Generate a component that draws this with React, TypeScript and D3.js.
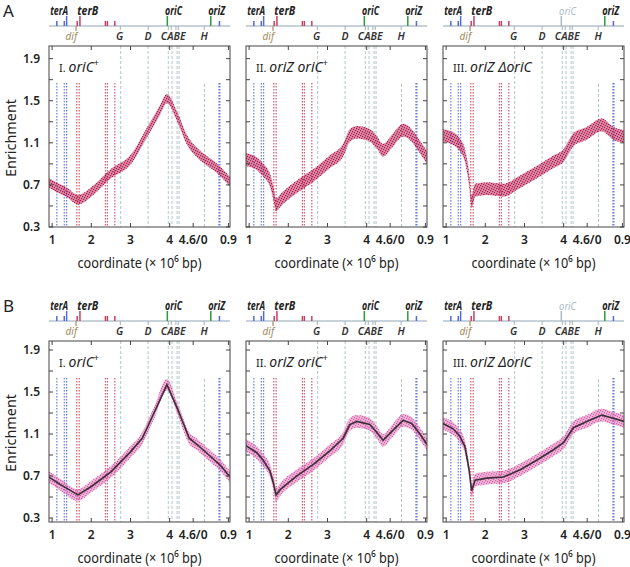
import React from "react";
import * as d3 from "d3";

// ---------- axes ----------
const X_DOMAIN: [number, number] = [0.92, 5.54]; // unwrapped genome axis (Mb); values > 4.6 wrap to 0
const X_TICKS = [1, 2, 3, 4, 4.6, 5.5];
const X_TICK_LABELS = ["1", "2", "3", "4", "4.6/0", "0.9"];
const Y_LABEL_TICKS = [0.3, 0.7, 1.1, 1.5, 1.9];
const Y_ALL_TICKS = [0.3, 0.5, 0.7, 0.9, 1.1, 1.3, 1.5, 1.7, 1.9];

// ---------- genome features (unwrapped axis positions) ----------
const TRACK_BLUE = [1.12, 1.31, 1.37, 5.27];
const TRACK_BLUE_TALL = [false, false, true, false];
const TRACK_RED = [1.64, 1.71, 2.36, 2.41, 2.6];
const TRACK_RED_TALL = [false, true, false, false, false];
const TRACK_ORI = [3.94, 5.05];
const TRACK_BELOW = [2.74, 3.45, 3.965, 4.04, 4.16, 4.22, 4.88];
const DIF_POS = 1.61;
const GENE_LABELS = ["terA", "terB", "oriC", "oriZ"];
const GENE_LABEL_POS = [1.18, 1.91, 4.1, 5.2];
const GENE_LABEL_W = [18, 21, 17, 17];
const RRN_LABELS = ["G", "D", "CABE", "H"];
const RRN_LABEL_POS = [2.72, 3.45, 4.09, 4.88];
const DIF_LABEL_POS = 1.49;

const LINE_BLUE = [1.12, 1.31, 1.37];
const LINE_ORIZ = [5.27];
const LINE_RED = [1.63, 1.69, 2.36, 2.41, 2.6];
const LINE_GRAY_FULL = [2.75, 3.45, 3.965, 4.06, 4.19, 4.24];
const LINE_GRAY_H = [4.89];

// ---------- enrichment profiles ----------
const A1_POS = [0.92, 1.1, 1.37, 1.66, 2.05, 2.48, 3.03, 3.41, 3.75, 3.93, 4.19, 4.44, 4.78, 5.2, 5.54];
const A1_VAL = [0.72, 0.68, 0.63, 0.56, 0.65, 0.8, 0.95, 1.19, 1.41, 1.52, 1.35, 1.13, 0.98, 0.86, 0.73];
const A2_POS = [0.92, 1.2, 1.36, 1.53, 1.62, 1.69, 1.79, 2.21, 2.64, 3.06, 3.4, 3.57, 3.75, 4.08, 4.25, 4.42, 4.68, 4.93, 5.15, 5.36, 5.54];
const A2_VAL = [0.94, 0.9, 0.84, 0.745, 0.62, 0.51, 0.55, 0.68, 0.79, 0.92, 1.03, 1.17, 1.2, 1.17, 1.11, 1.03, 1.13, 1.22, 1.17, 1.06, 0.96];
const A3_POS = [0.92, 1.18, 1.35, 1.48, 1.59, 1.65, 1.74, 2.04, 2.46, 2.89, 3.31, 3.74, 4.0, 4.25, 4.59, 4.97, 5.27, 5.54];
const A3_VAL = [1.17, 1.14, 1.08, 0.98, 0.745, 0.54, 0.65, 0.665, 0.65, 0.73, 0.82, 0.92, 0.98, 1.13, 1.19, 1.27, 1.19, 1.16];

const B1_POS = [0.92, 1.2, 1.66, 2.0, 2.5, 3.0, 3.3, 3.6, 3.93, 4.2, 4.5, 4.7, 5.0, 5.3, 5.54];
const B1_VAL = [0.69, 0.62, 0.52, 0.6, 0.74, 0.93, 1.06, 1.3, 1.57, 1.34, 1.06, 1.0, 0.9, 0.8, 0.69];
const B2_POS = [0.92, 1.2, 1.36, 1.53, 1.62, 1.69, 1.79, 2.21, 2.64, 3.06, 3.4, 3.57, 3.75, 4.08, 4.25, 4.42, 4.68, 4.93, 5.15, 5.36, 5.54];
const B2_VAL = [0.99, 0.92, 0.85, 0.75, 0.63, 0.52, 0.57, 0.7, 0.81, 0.94, 1.06, 1.19, 1.22, 1.19, 1.12, 1.04, 1.14, 1.23, 1.2, 1.1, 1.0];
const B3_POS = [0.92, 1.18, 1.35, 1.48, 1.59, 1.65, 1.74, 2.04, 2.46, 2.89, 3.31, 3.74, 4.0, 4.25, 4.59, 4.97, 5.27, 5.54];
const B3_VAL = [1.2, 1.15, 1.08, 0.98, 0.75, 0.56, 0.66, 0.68, 0.69, 0.76, 0.85, 0.95, 1.02, 1.16, 1.22, 1.28, 1.25, 1.22];

const SPREAD_A = [0.045, 0.06, 0.06];
const SPREAD_B = [0.055, 0.06, 0.06];

const PANEL_TITLES = [
  { num: "I.", rest: "oriC", sup: "+" },
  { num: "II.", rest: "oriZ oriC", sup: "+" },
  { num: "III.", rest: "oriZ ΔoriC", sup: "" },
];

// ---------- layout ----------
const PANEL_X = [49, 246, 443];
const PANEL_W = 181;
const ROWS = [
  { key: "A", top: 46, bottom: 227, yDomain: [0.3, 2.02] as [number, number], pos: [A1_POS, A2_POS, A3_POS], val: [A1_VAL, A2_VAL, A3_VAL], spread: SPREAD_A, fit: false },
  { key: "B", top: 341, bottom: 522, yDomain: [0.262, 1.986] as [number, number], pos: [B1_POS, B2_POS, B3_POS], val: [B1_VAL, B2_VAL, B3_VAL], spread: SPREAD_B, fit: true },
];

const FONT = "'Noto Sans', 'Open Sans', sans-serif";
const DOT_A = "#b3164b";
const DOT_B = "#d85aa8";
const BLUE = "#5268e0";
const RED = "#c8405f";
const GREEN = "#2f9a3c";
const GRAY_DASH = "#b4c6c8";
const TRACK = "#8fa5b5";

export default function App() {
  const x = d3.scaleLinear().domain(X_DOMAIN).range([0, PANEL_W]);

  return (
    <svg width={630} height={567} style={{ position: "absolute", left: 0, top: 0, background: "#fff" }} fontFamily={FONT}>
      <defs>
        <pattern id="dotsA" patternUnits="userSpaceOnUse" width={5} height={5}>
          <rect x={0} y={0} width={1.2} height={1.2} fill={DOT_A} />
          <rect x={2} y={1} width={1.2} height={1.2} fill={DOT_A} />
          <rect x={4} y={2} width={1.2} height={1.2} fill={DOT_A} />
          <rect x={1} y={3} width={1.2} height={1.2} fill={DOT_A} />
          <rect x={3} y={4} width={1.2} height={1.2} fill={DOT_A} />
        </pattern>
        <pattern id="dotsB" patternUnits="userSpaceOnUse" width={5} height={5}>
          <rect x={0} y={0} width={1.2} height={1.2} fill={DOT_B} />
          <rect x={2} y={1} width={1.2} height={1.2} fill={DOT_B} />
          <rect x={4} y={2} width={1.2} height={1.2} fill={DOT_B} />
          <rect x={1} y={3} width={1.2} height={1.2} fill={DOT_B} />
          <rect x={3} y={4} width={1.2} height={1.2} fill={DOT_B} />
        </pattern>
        {ROWS.map((row) =>
          PANEL_X.map((px, pi) => (
            <clipPath id={`clip-${row.key}-${pi}`} key={`${row.key}${pi}`}>
              <rect x={px} y={row.top} width={PANEL_W} height={row.bottom - row.top} />
            </clipPath>
          ))
        )}
      </defs>

      {ROWS.map((row) => {
        const y = d3.scaleLinear().domain(row.yDomain).range([row.bottom, row.top]);
        const trackY = row.top - 20;
        const color = row.fit ? DOT_B : DOT_A;
        return (
          <g key={row.key}>
            <text x={3} y={row.top - 29} fontSize={17} fill="#222">{row.key}</text>
            <text
              transform={`translate(16,${row.top + 92}) rotate(-90)`}
              textAnchor="middle"
              fontSize={15}
              fill="#222"
              textLength={78}
              lengthAdjust="spacingAndGlyphs"
            >
              Enrichment
            </text>
            {Y_LABEL_TICKS.map((t) => (
              <text key={t} x={PANEL_X[0] - 9} y={y(t)} dy="0.35em" textAnchor="end" fontSize={12} fontWeight={600} fill="#222">
                {t.toFixed(1)}
              </text>
            ))}
            {PANEL_X.map((px, pi) => {
              const gx = (v: number) => px + x(v);
              const pos = row.pos[pi];
              const val = row.val[pi];
              const s = row.spread[pi];
              const band = d3
                .area<number>()
                .x((_, i) => gx(pos[i]))
                .y0((d) => y(d - s))
                .y1((d) => y(d + s))
                .curve(d3.curveMonotoneX)(val);
              const line = d3
                .line<number>()
                .x((_, i) => gx(pos[i]))
                .y((d) => y(d))
                .curve(d3.curveLinear)(val);
              const title = PANEL_TITLES[pi];
              const oriCGone = pi === 2;
              return (
                <g key={pi}>
                  {/* gene track */}
                  <line x1={px} x2={px + PANEL_W} y1={trackY} y2={trackY} stroke={TRACK} strokeWidth={1} />
                  {TRACK_BLUE.map((v, i) => (
                    <line key={"tb" + i} x1={gx(v)} x2={gx(v)} y1={trackY} y2={trackY - (TRACK_BLUE_TALL[i] ? 10 : 5)} stroke={BLUE} strokeWidth={1.5} />
                  ))}
                  {TRACK_RED.map((v, i) => (
                    <line key={"tr" + i} x1={gx(v)} x2={gx(v)} y1={trackY} y2={trackY - (TRACK_RED_TALL[i] ? 10 : 5)} stroke={RED} strokeWidth={1.5} />
                  ))}
                  {TRACK_ORI.map((v, i) => (
                    <line key={"to" + i} x1={gx(v)} x2={gx(v)} y1={trackY} y2={trackY - 10} stroke={i === 0 && oriCGone ? "#a9bcc6" : GREEN} strokeWidth={1.5} />
                  ))}
                  {TRACK_BELOW.map((v, i) => (
                    <line key={"tw" + i} x1={gx(v)} x2={gx(v)} y1={trackY} y2={trackY + 4} stroke="#9fb0ba" strokeWidth={1} />
                  ))}
                  <line x1={gx(DIF_POS)} x2={gx(DIF_POS)} y1={trackY} y2={trackY + 5} stroke="#a08a5c" strokeWidth={1.2} />
                  {GENE_LABELS.map((g, i) => {
                    const faded = g === "oriC" && oriCGone;
                    return (
                      <text key={g} x={gx(GENE_LABEL_POS[i])} y={trackY - 11} textAnchor="middle" fontSize={11.5} fontStyle="italic"
                        fontWeight={faded ? 400 : 700} fill={faded ? "#a9bcc6" : "#222"} textLength={GENE_LABEL_W[i]} lengthAdjust="spacingAndGlyphs">
                        {g}
                      </text>
                    );
                  })}
                  <text x={gx(DIF_LABEL_POS)} y={trackY + 14} textAnchor="middle" fontSize={10} fontStyle="italic" fill="#a08a5c">dif</text>
                  {RRN_LABELS.map((g, i) => (
                    <text key={g} x={gx(RRN_LABEL_POS[i])} y={trackY + 14} textAnchor="middle" fontSize={10.5} fontStyle="italic" fontWeight={600} fill="#333">
                      {g}
                    </text>
                  ))}

                  {/* dashed feature lines */}
                  {LINE_GRAY_FULL.map((v, i) => (
                    <line key={"lg" + i} x1={gx(v)} x2={gx(v)} y1={row.top} y2={row.bottom} stroke={GRAY_DASH} strokeWidth={1} strokeDasharray="3,2" />
                  ))}
                  {LINE_GRAY_H.map((v, i) => (
                    <line key={"lh" + i} x1={gx(v)} x2={gx(v)} y1={row.top + 38} y2={row.bottom} stroke={GRAY_DASH} strokeWidth={1} strokeDasharray="3,2" />
                  ))}
                  {LINE_BLUE.map((v, i) => (
                    <line key={"lb" + i} x1={gx(v)} x2={gx(v)} y1={row.top + 37} y2={row.bottom} stroke={BLUE} strokeWidth={1.2} strokeDasharray="1.5,1.5" opacity={0.85} />
                  ))}
                  {LINE_ORIZ.map((v, i) => (
                    <line key={"lz" + i} x1={gx(v)} x2={gx(v)} y1={row.top + 37} y2={row.bottom} stroke={BLUE} strokeWidth={2.2} strokeDasharray="1.5,1.5" opacity={0.85} />
                  ))}
                  {LINE_RED.map((v, i) => (
                    <line key={"lr" + i} x1={gx(v)} x2={gx(v)} y1={row.top + 37} y2={row.bottom} stroke={RED} strokeWidth={1.2} strokeDasharray="1.5,1.5" opacity={0.85} />
                  ))}

                  {/* data */}
                  <g clipPath={`url(#clip-${row.key}-${pi})`}>
                    <path d={band ?? ""} fill={color} opacity={row.fit ? 0.45 : 0.5} />
                    <path d={band ?? ""} fill={`url(#dots${row.key})`} />
                    {row.fit && <path d={line ?? ""} fill="none" stroke="#3e2c38" strokeWidth={1.6} />}
                  </g>

                  {/* frame */}
                  <rect x={px} y={row.top} width={PANEL_W} height={row.bottom - row.top} fill="none" stroke="#444" strokeWidth={1} />
                  {Y_ALL_TICKS.map((t) => (
                    <g key={t}>
                      <line x1={px} x2={px + 4} y1={y(t)} y2={y(t)} stroke="#444" />
                      <line x1={px + PANEL_W - 4} x2={px + PANEL_W} y1={y(t)} y2={y(t)} stroke="#444" />
                    </g>
                  ))}
                  {X_TICKS.map((t, i) => (
                    <g key={t}>
                      <line x1={gx(t)} x2={gx(t)} y1={row.bottom} y2={row.bottom - 4} stroke="#444" />
                      <line x1={gx(t)} x2={gx(t)} y1={row.top} y2={row.top + 4} stroke="#444" />
                      <text x={gx(t)} y={row.bottom + 13} dy="0.35em" textAnchor="middle" fontSize={12} fontWeight={600} fill="#222">
                        {X_TICK_LABELS[i]}
                      </text>
                    </g>
                  ))}
                  <text x={px + PANEL_W / 2} y={row.bottom + 41} textAnchor="middle" fontSize={15} fill="#222" textLength={124} lengthAdjust="spacingAndGlyphs">
                    coordinate (× 10⁶ bp)
                  </text>

                  {/* panel title */}
                  <text x={px + 10} y={row.top + 26} fontSize={14} fill="#222" fontFamily={FONT}>
                    <tspan fontSize={11}>{title.num} </tspan>
                    <tspan fontStyle="italic">{title.rest}</tspan>
                    {title.sup && <tspan fontSize={9} dy={-6}>{title.sup}</tspan>}
                  </text>
                </g>
              );
            })}
          </g>
        );
      })}
    </svg>
  );
}
